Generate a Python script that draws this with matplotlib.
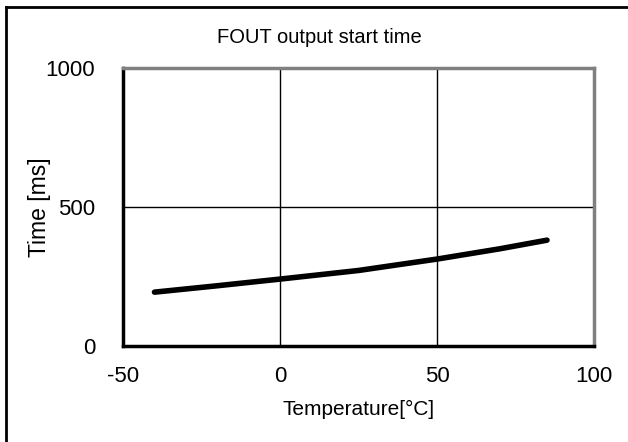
import matplotlib
matplotlib.use('Agg')
import matplotlib.pyplot as plt
from matplotlib.lines import Line2D

plt.rcParams['font.family'] = ['Liberation Sans', 'DejaVu Sans']
plt.rcParams['axes.unicode_minus'] = False

# data
temperature = [-40, -20, 0, 25, 50, 70, 85]
start_time = [194, 217, 241, 272, 313, 350, 381]

x_ticks = [-50, 0, 50, 100]
y_ticks = [0, 500, 1000]

fig = plt.figure(figsize=(6.28, 4.42), dpi=100)
ax = fig.add_axes([0.196, 0.217, 0.750, 0.629])

ax.plot(temperature, start_time, color='black', linewidth=4, solid_capstyle='round')

ax.set_xlim(-50, 100)
ax.set_ylim(0, 1000)
ax.set_xticks(x_ticks)
ax.set_yticks(y_ticks)
ax.grid(True, color='black', linewidth=1)
ax.tick_params(length=0, labelsize=16)
ax.tick_params(axis='y', pad=20)
ax.tick_params(axis='x', pad=14)

for side in ['left', 'bottom']:
    ax.spines[side].set_color('black')
    ax.spines[side].set_linewidth(2.5)
for side in ['top', 'right']:
    ax.spines[side].set_color('#808080')
    ax.spines[side].set_linewidth(2.5)

# title sits centred on the whole chart, not the plot area
fig.text(0.508, 0.916, 'FOUT output start time', fontsize=14.5, ha='center', va='center')
ax.set_xlabel('Temperature[°C]', fontsize=15, labelpad=10)
ax.set_ylabel('Time [ms]', fontsize=16.5, labelpad=-4)

# outer chart border (left and top only visible)
fig.add_artist(Line2D([0.01, 0.01], [0, 0.985], transform=fig.transFigure, color='black', linewidth=2))
fig.add_artist(Line2D([0.01, 1.0], [0.985, 0.985], transform=fig.transFigure, color='black', linewidth=2))

fig.savefig('out.png', dpi=100)
